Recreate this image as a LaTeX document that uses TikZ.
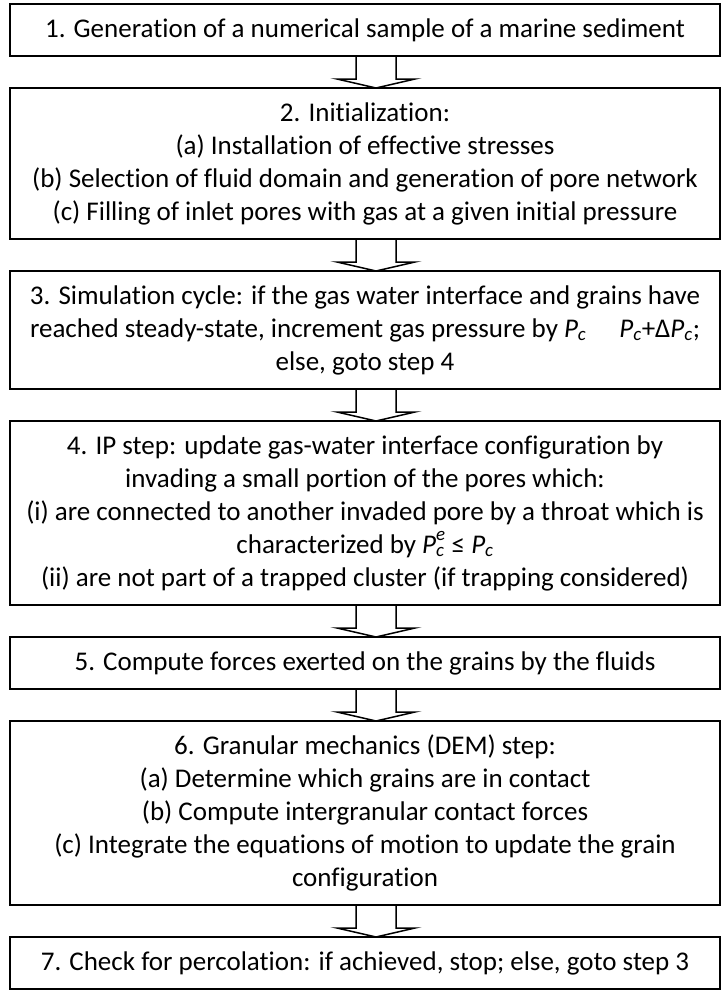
\documentclass[tikz,border=0pt]{standalone}
\usepackage{fontspec}
\setmainfont{Carlito}[Ligatures=NoCommon]
\usetikzlibrary{positioning,calc}

\newcommand{\Pc}{\textit{P}\textsubscript{\textit{c}}}
\newcommand{\Pce}{\textit{P}\rlap{\textsubscript{\textit{c}}}\raisebox{0.25ex}{\textsuperscript{\textit{e}}}}

\begin{document}
\begin{tikzpicture}[x=1pt,y=1pt,node distance=32pt,
  stepbox/.style={draw, line width=1.5pt, minimum width=710pt, inner sep=0pt, outer sep=0pt,
    align=center, font=\fontsize{27}{33}\selectfont},
  blockarrow/.style={line width=1.5pt, line join=miter}]
\useasboundingbox (0,0) rectangle (723,-991);

% Steps of the algorithm
\node[stepbox, minimum height=52pt] (s1) at (365,-30) {1. Generation of a numerical sample of a marine sediment};
\node[stepbox, minimum height=151pt, below=of s1] (s2) {2. Initialization:\\
  (a) Installation of effective stresses\\
  (b) Selection of fluid domain and generation of pore network\\
  (c) Filling of inlet pores with gas at a given initial pressure};
\node[stepbox, minimum height=118pt, below=of s2] (s3) {3. Simulation cycle: if the gas water interface and grains have\\
  reached steady-state, increment gas pressure by \Pc\hspace{1em} \Pc{}+Δ\Pc;\\
  else, goto step 4};
\node[stepbox, minimum height=184pt, below=of s3] (s4) {4. IP step: update gas-water interface configuration by\\
  invading a small portion of the pores which:\\
  (i) are connected to another invaded pore by a throat which is\\
  characterized by \Pce{} ≤ \Pc\\
  (ii) are not part of a trapped cluster (if trapping considered)};
\node[stepbox, minimum height=52pt, below=of s4] (s5) {5. Compute forces exerted on the grains by the fluids};
\node[stepbox, minimum height=184pt, below=of s5] (s6) {6. Granular mechanics (DEM) step:\\
  (a) Determine which grains are in contact\\
  (b) Compute intergranular contact forces\\
  (c) Integrate the equations of motion to update the grain\\
  configuration};
\node[stepbox, minimum height=52pt, below=of s6] (s7) {7. Check for percolation: if achieved, stop; else, goto step 3};

% Block arrows between the steps
\foreach \a/\b in {s1/s2,s2/s3,s3/s4,s4/s5,s5/s6,s6/s7}
  \draw[blockarrow] ($(\a.south)+(-9,0)$) -- ++(0,-23) -- ++(-19,0) -- ($(\b.north)+(11,0)$)
    -- ($(\a.south)+(50,-23)$) -- ++(-19,0) -- ++(0,23);

\end{tikzpicture}
\end{document}
